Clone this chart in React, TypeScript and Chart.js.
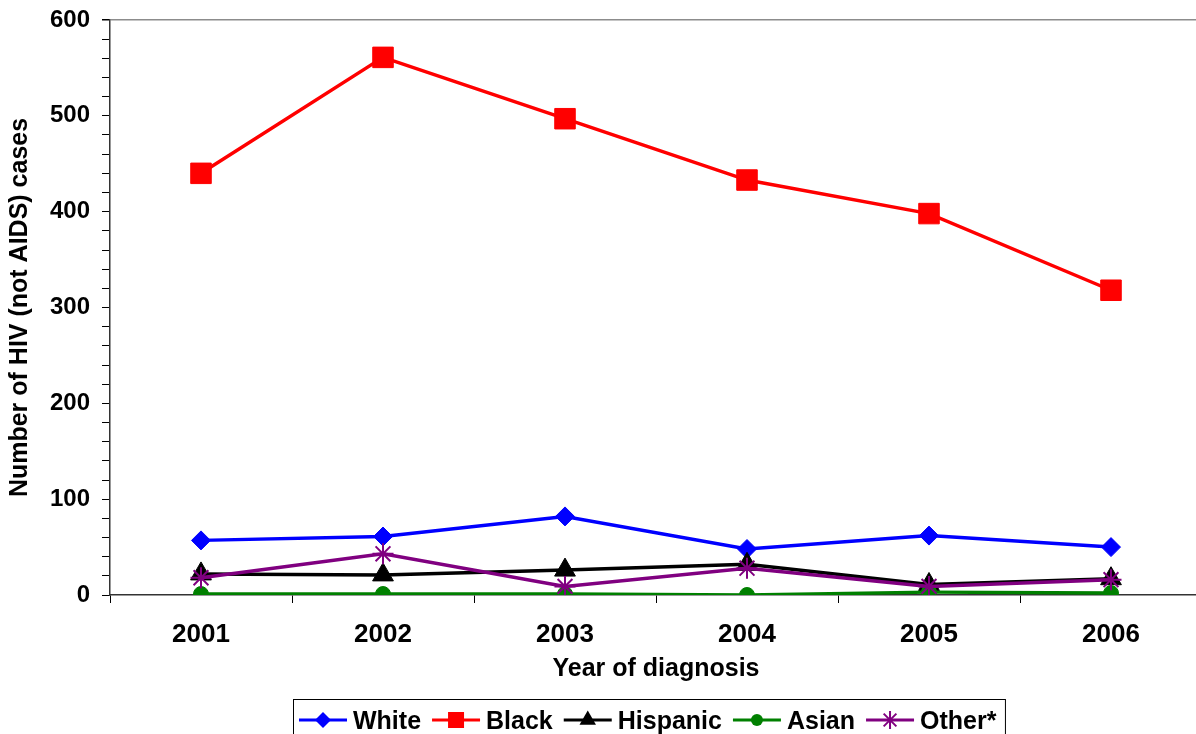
import React, { useEffect, useRef } from 'react';
import { Chart, registerables } from 'chart.js';

Chart.register(...registerables);

const years = ['2001', '2002', '2003', '2004', '2005', '2006'];
const white = [57, 61, 82, 48, 62, 50];
const black = [440, 561, 497, 433, 398, 318];
const hispanic = [22, 21, 26, 32, 11, 17];
const asian = [1, 1, 1, 0, 3, 2];
const other = [18, 43, 9, 28, 9, 16];
const yLabelTicks = [0, 100, 200, 300, 400, 500, 600];

const FONT = '"Liberation Sans", Arial, Helvetica, sans-serif';

function drawMarker(ctx: CanvasRenderingContext2D, style: string, x: number, y: number, color: string) {
  ctx.save();
  ctx.fillStyle = color;
  ctx.strokeStyle = color;
  ctx.beginPath();
  if (style === 'rectRot') {
    const r = 8;
    ctx.moveTo(x - r, y);
    ctx.lineTo(x, y - r);
    ctx.lineTo(x + r, y);
    ctx.lineTo(x, y + r);
    ctx.closePath();
    ctx.fill();
  } else if (style === 'rect') {
    const s = 8;
    ctx.rect(x - s, y - s, 2 * s, 2 * s);
    ctx.fill();
  } else if (style === 'triangle') {
    const r = 9.5;
    ctx.moveTo(x, y - r);
    ctx.lineTo(x + 0.866 * r, y + 0.5 * r);
    ctx.lineTo(x - 0.866 * r, y + 0.5 * r);
    ctx.closePath();
    ctx.fill();
  } else if (style === 'circle') {
    ctx.arc(x, y, 6, 0, Math.PI * 2);
    ctx.fill();
  } else if (style === 'star') {
    const r = 9;
    const d = r * Math.SQRT1_2;
    ctx.lineWidth = 2;
    ctx.moveTo(x, y - r); ctx.lineTo(x, y + r);
    ctx.moveTo(x - r, y); ctx.lineTo(x + r, y);
    ctx.moveTo(x - d, y - d); ctx.lineTo(x + d, y + d);
    ctx.moveTo(x - d, y + d); ctx.lineTo(x + d, y - d);
    ctx.stroke();
  }
  ctx.restore();
}

const legendPlugin = {
  id: 'customLegend',
  afterDraw(chart: any) {
    const ctx: CanvasRenderingContext2D = chart.ctx;
    ctx.save();
    ctx.font = `bold 25px ${FONT}`;
    ctx.textBaseline = 'middle';
    ctx.textAlign = 'left';
    const startX = 299;
    const y = 722;
    const lineLen = 48;
    const gapText = 6;
    const gapItem = 11;
    let x = startX;
    const sorted = [...chart.data.datasets].sort((a: any, b: any) => a.legendIndex - b.legendIndex);
    sorted.forEach((ds: any) => {
      ctx.strokeStyle = ds.borderColor;
      ctx.lineWidth = 3;
      ctx.beginPath();
      ctx.moveTo(x, y - 2);
      ctx.lineTo(x + lineLen, y - 2);
      ctx.stroke();
      drawMarker(ctx, ds.pointStyle, x + lineLen / 2, y - 2, ds.borderColor);
      x += lineLen + gapText;
      ctx.fillStyle = '#000';
      ctx.fillText(ds.label, x, y);
      x += ctx.measureText(ds.label).width + gapItem;
    });
    const right = x - gapItem + 9;
    ctx.strokeStyle = '#000';
    ctx.lineWidth = 1;
    ctx.strokeRect(293.5, 699.5, right - 293.5, 50);
    ctx.restore();
  },
};

export default function App() {
  const ref = useRef<HTMLCanvasElement | null>(null);

  useEffect(() => {
    if (!ref.current) return;
    const mk = (label: string, data: number[], color: string, style: string, radius: number, order: number, legendIndex: number, fill = true) => ({
      label,
      data,
      borderColor: color,
      backgroundColor: color,
      borderWidth: 3.5,
      pointStyle: style,
      pointRadius: radius,
      pointHoverRadius: radius,
      pointBackgroundColor: fill ? color : 'transparent',
      pointBorderColor: color,
      pointBorderWidth: fill ? 1 : 2,
      tension: 0,
      order,
      legendIndex,
    });
    const chart = new Chart(ref.current, {
      type: 'line',
      data: {
        labels: years,
        datasets: [
          mk('White', white, '#0000FF', 'rectRot', 9.5, 4, 0),
          mk('Black', black, '#FF0000', 'rect', 14.5, 3, 1),
          mk('Hispanic', hispanic, '#000000', 'triangle', 12, 2, 2),
          mk('Asian', asian, '#008000', 'circle', 7.5, 1, 3),
          mk('Other*', other, '#800080', 'star', 10.5, 0, 4, false),
        ] as any,
      },
      options: {
        responsive: false,
        animation: false,
        events: [],
        layout: { padding: { top: 20, left: 0, right: 18, bottom: 50 } },
        plugins: {
          legend: { display: false },
          tooltip: { enabled: false },
        },
        scales: {
          x: {
            type: 'category',
            offset: true,
            grid: {
              offset: true,
              drawOnChartArea: false,
              drawTicks: true,
              tickLength: 8,
              tickColor: '#000',
              color: '#000',
            },
            border: { color: '#333', width: 1.5 },
            ticks: {
              color: '#000',
              padding: 16,
              font: { family: FONT, size: 26, weight: 'bold' },
              maxRotation: 0,
              autoSkip: false,
            },
            title: {
              display: true,
              text: 'Year of diagnosis',
              color: '#000',
              font: { family: FONT, size: 25, weight: 'bold' },
              padding: { top: 0, bottom: 0 },
            },
            afterFit: (scale: any) => {
              scale.height = 89;
              scale.paddingLeft = 0;
              scale.paddingRight = 0;
            },
          },
          y: {
            min: 0,
            max: 600,
            grid: {
              drawOnChartArea: true,
              drawTicks: true,
              tickLength: 8,
              tickColor: '#000',
              color: (c: any) => (c.tick && c.tick.value === 600 ? '#8c8c8c' : 'rgba(0,0,0,0)'),
              lineWidth: (c: any) => (c.tick && c.tick.value === 600 ? 1.5 : 1),
            },
            border: { color: '#333', width: 1.5 },
            ticks: {
              stepSize: 20,
              autoSkip: false,
              color: '#000',
              padding: 12,
              font: { family: FONT, size: 24, weight: 'bold' },
              callback: (v: any) => (yLabelTicks.includes(Number(v)) ? String(v) : ''),
            },
            title: {
              display: true,
              text: 'Number of HIV (not AIDS) cases',
              color: '#000',
              font: { family: FONT, size: 25, weight: 'bold' },
              padding: { top: 5, bottom: 0 },
            },
            afterFit: (scale: any) => {
              scale.width = 110;
              scale.paddingTop = 0;
              scale.paddingBottom = 0;
            },
          },
        },
      } as any,
      plugins: [legendPlugin],
    });
    return () => chart.destroy();
  }, []);

  return (
    <div style={{ position: 'fixed', left: 0, top: 0, width: 1196, height: 734, overflow: 'hidden', background: '#fff' }}>
      <canvas ref={ref} width={1220} height={734} style={{ display: 'block' }} />
    </div>
  );
}
